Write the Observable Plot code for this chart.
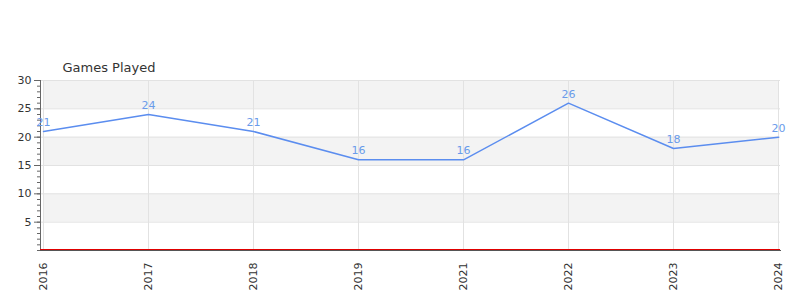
<!DOCTYPE html>
<html>
<head>
<meta charset="utf-8">
<script src="https://cdn.jsdelivr.net/npm/d3@7"></script>
<script src="https://cdn.jsdelivr.net/npm/@observablehq/plot@0.6"></script>
<style>
  html, body { margin: 0; padding: 0; background: #fff; }
  #chart svg { display: block; }
</style>
</head>
<body>
<div id="chart"></div>
<script>
const years = ["2016", "2017", "2018", "2019", "2021", "2022", "2023", "2024"];
const games = [21, 24, 21, 16, 16, 26, 18, 20];
const majorTicks = [5, 10, 15, 20, 25, 30];
const minorTicks = d3.range(0, 31, 1);
const bandStarts = [5, 15, 25];
const title = "Games Played";

const data = years.map((y, i) => ({year: y, value: games[i]}));
const bands = bandStarts.map(s => ({y1: s, y2: s + 5}));

const chart = Plot.plot({
  width: 800,
  height: 300,
  marginTop: 80,
  marginBottom: 50,
  marginLeft: 40,
  marginRight: 20,
  style: {fontFamily: "DejaVu Sans", fontSize: "11px", color: "#333", background: "#fff"},
  x: {type: "point", domain: years, padding: 0},
  y: {domain: [0, 30]},
  marks: [
    Plot.rectY(bands, {x1: () => years[0], x2: () => years[years.length - 1], y1: "y1", y2: "y2", fill: "#f3f3f3"}),
    Plot.gridY(majorTicks, {stroke: "#e2e2e2", strokeOpacity: 1}),
    Plot.gridX(years, {stroke: "#e2e2e2", strokeOpacity: 1}),
    Plot.axisY(minorTicks, {tickSize: 3, text: null, stroke: "#666", label: null}),
    Plot.axisY(majorTicks, {tickSize: 6, tickPadding: 3, stroke: "#666", fill: "#333", label: null}),
    Plot.axisX(years, {tickSize: 0, tickPadding: 12, tickRotate: -90, fill: "#333", label: null}),
    Plot.frame({anchor: "left", stroke: "#666"}),
    Plot.frame({anchor: "bottom", stroke: "#555"}),
    Plot.ruleY([0], {stroke: "#e00000", dy: -1}),
    Plot.line(data, {x: "year", y: "value", stroke: "#5b8def", strokeWidth: 1.5}),
    Plot.text(data, {x: "year", y: "value", text: d => String(d.value), dy: -9, fill: "#6a9bea", fontSize: 11}),
    Plot.text([title], {frameAnchor: "top-left", dx: 22, dy: -18, fill: "#333", fontSize: 13, textAnchor: "start"})
  ]
});
document.getElementById("chart").appendChild(chart);
</script>
</body>
</html>
